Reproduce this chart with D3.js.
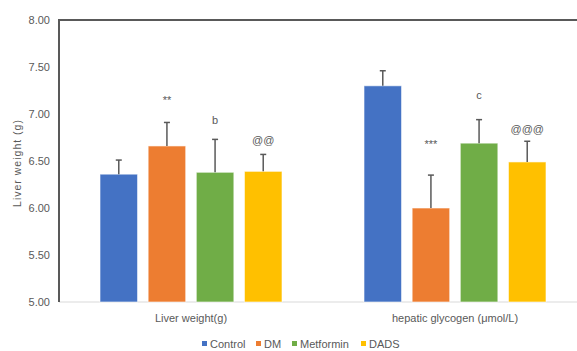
<!DOCTYPE html>
<html lang="en">
  <head>
    <meta charset="utf-8">
    <title>Liver weight and hepatic glycogen</title>
    <script src="https://cdn.jsdelivr.net/npm/d3@7"></script>
  </head>
  <style type="text/css">
    body { margin: 0; background: white; }
    text {
      font-family: "Liberation Sans", Arial, sans-serif;
      fill: #595959;
    }
  </style>
  <body>
    <div id="svg-area"></div>
    <script>
      const svg_width = 577;
      const svg_height = 351;

      // data
      const categories = ['Liver weight(g)', 'hepatic glycogen (\u03bcmol/L)'];
      const groups = ['Control', 'DM', 'Metformin', 'DADS'];
      const colors = ['#4472C4', '#ED7D31', '#70AD47', '#FFC000'];
      const means = [
        [6.36, 6.66, 6.38, 6.39],
        [7.30, 6.00, 6.69, 6.49]
      ];
      const errors = [
        [0.15, 0.25, 0.35, 0.18],
        [0.16, 0.35, 0.25, 0.22]
      ];
      // significance marks and the height (axis units) where each sits
      const marks = [
        ['', '**', 'b', '@@'],
        ['', '***', 'c', '@@@']
      ];
      const mark_levels = [
        [0, 7.15, 6.94, 6.72],
        [0, 6.68, 7.20, 6.84]
      ];
      const y_ticks = [5.00, 5.50, 6.00, 6.50, 7.00, 7.50, 8.00];

      const svg = d3.select('#svg-area')
        .append('svg')
        .attr('width', svg_width)
        .attr('height', svg_height);

      const m_left = 59, m_top = 20, m_bottom = 302, m_right = 587;

      const y = d3.scaleLinear().domain([5, 8]).range([m_bottom, m_top]);
      const x0 = d3.scaleBand().domain(categories).range([m_left, m_right])
        .paddingInner(0).paddingOuter(0);
      const x1 = d3.scaleBand().domain(groups).range([41, x0.bandwidth() - 41])
        .paddingInner(0.22).paddingOuter(0);

      //bottom baseline
      svg.append('line')
        .attr('x1', m_left).attr('x2', svg_width)
        .attr('y1', m_bottom).attr('y2', m_bottom)
        .attr('stroke', '#d9d9d9').attr('stroke-width', 1);

      //y axis
      const y_axis = d3.axisLeft(y).tickValues(y_ticks)
        .tickFormat(d3.format('.2f')).tickSize(0).tickPadding(9);
      const yg = svg.append('g')
        .attr('transform', `translate(${m_left},0)`)
        .call(y_axis);
      yg.select('.domain').remove();
      yg.selectAll('text').style('font-size', '11px').attr('fill', '#595959');

      //bars
      const cat_groups = svg.selectAll('g.cat')
        .data(categories)
        .enter()
        .append('g')
        .attr('class', 'cat')
        .attr('transform', d => `translate(${x0(d)},0)`);

      cat_groups.each(function(cat, ci) {
        const g = d3.select(this);
        const rows = groups.map((name, gi) => ({
          name, gi, v: means[ci][gi], e: errors[ci][gi],
          mark: marks[ci][gi], level: mark_levels[ci][gi]
        }));

        g.selectAll('rect')
          .data(rows)
          .enter()
          .append('rect')
          .attr('x', d => x1(d.name))
          .attr('width', x1.bandwidth())
          .attr('y', d => y(d.v))
          .attr('height', d => y(5) - y(d.v))
          .attr('fill', d => colors[d.gi])
          .attr('stroke', 'rgba(255,255,255,0.6)')
          .attr('stroke-width', 1);

        //error bars
        const eb = g.selectAll('g.err')
          .data(rows)
          .enter()
          .append('g')
          .attr('class', 'err')
          .attr('stroke', '#595959')
          .attr('stroke-width', 1.5);
        eb.append('line')
          .attr('x1', d => x1(d.name) + x1.bandwidth() / 2)
          .attr('x2', d => x1(d.name) + x1.bandwidth() / 2)
          .attr('y1', d => y(d.v))
          .attr('y2', d => y(d.v + d.e));
        eb.append('line')
          .attr('x1', d => x1(d.name) + x1.bandwidth() / 2 - 3)
          .attr('x2', d => x1(d.name) + x1.bandwidth() / 2 + 3)
          .attr('y1', d => y(d.v + d.e))
          .attr('y2', d => y(d.v + d.e));

        //significance marks
        g.selectAll('text.mark')
          .data(rows.filter(d => d.mark))
          .enter()
          .append('text')
          .attr('class', 'mark')
          .attr('x', d => x1(d.name) + x1.bandwidth() / 2)
          .attr('y', d => y(d.level))
          .attr('text-anchor', 'middle')
          .attr('dominant-baseline', 'central')
          .style('font-size', '11px')
          .text(d => d.mark);
      });

      //category labels
      svg.selectAll('text.cat-label')
        .data(categories)
        .enter()
        .append('text')
        .attr('class', 'cat-label')
        .attr('x', d => x0(d) + x0.bandwidth() / 2)
        .attr('y', 322)
        .attr('text-anchor', 'middle')
        .style('font-size', '11px')
        .text(d => d);

      //left axis and top border
      svg.append('line')
        .attr('x1', m_left).attr('x2', m_left)
        .attr('y1', m_top).attr('y2', m_bottom)
        .attr('stroke', '#595959').attr('stroke-width', 2);
      svg.append('line')
        .attr('x1', m_left - 1).attr('x2', svg_width)
        .attr('y1', m_top).attr('y2', m_top)
        .attr('stroke', '#595959').attr('stroke-width', 2);

      //y label
      svg.append('text')
        .attr('transform', `translate(21,${(m_top + m_bottom) / 2 + 2}) rotate(-90)`)
        .attr('text-anchor', 'middle')
        .style('font-size', '10.5px')
        .style('letter-spacing', '1px')
        .text('Liver weight (g)');

      //legend
      const legend_x = [202, 256, 292, 361];
      const legend = svg.selectAll('g.legend')
        .data(groups)
        .enter()
        .append('g')
        .attr('class', 'legend')
        .attr('transform', (d, i) => `translate(${legend_x[i]},341)`);
      legend.append('rect')
        .attr('width', 5).attr('height', 5)
        .attr('fill', (d, i) => colors[i]);
      legend.append('text')
        .attr('x', 8).attr('y', 7)
        .style('font-size', '11px')
        .text(d => d);
    </script>
  </body>
</html>
